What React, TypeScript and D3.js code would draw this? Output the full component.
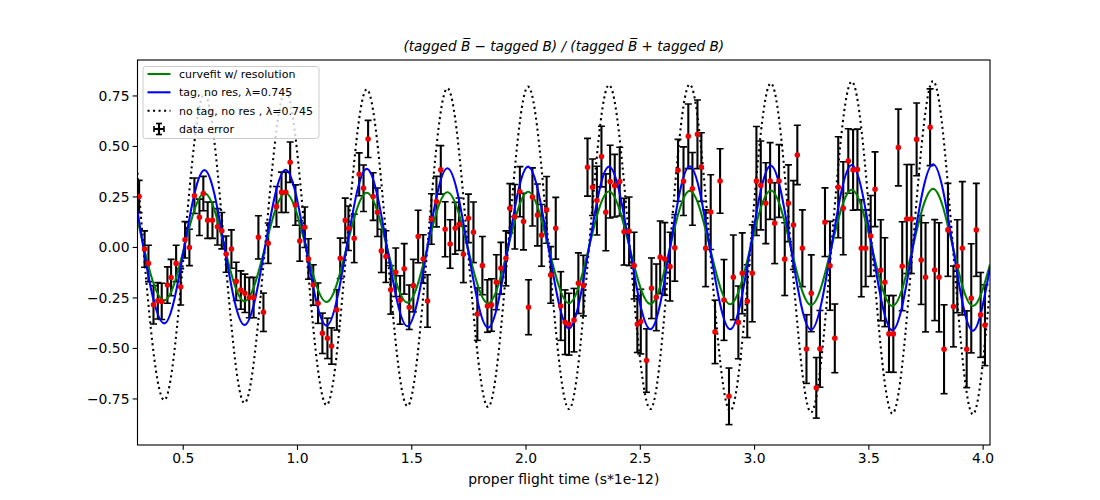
import React from 'react';
import * as d3 from 'd3';

// ---------- data ----------
const timeValues = [
  0.307, 0.331, 0.348, 0.370, 0.389, 0.406, 0.431, 0.447, 0.469, 0.489,
  0.508, 0.527, 0.549, 0.571, 0.588, 0.607, 0.628, 0.650, 0.669, 0.688,
  0.711, 0.732, 0.752, 0.770, 0.789, 0.808, 0.829, 0.851, 0.872, 0.908,
  0.930, 0.949, 0.968, 0.991, 1.010, 1.032, 1.048, 1.069, 1.090, 1.109,
  1.131, 1.149, 1.172, 1.187, 1.209, 1.223, 1.248, 1.270, 1.289, 1.309,
  1.331, 1.350, 1.367, 1.387, 1.408, 1.430, 1.449, 1.467, 1.489, 1.507,
  1.528, 1.550, 1.569, 1.586, 1.608, 1.627, 1.646, 1.668, 1.690, 1.707,
  1.726, 1.748, 1.770, 1.787, 1.809, 1.831, 1.849, 1.870, 1.890, 1.912,
  1.929, 1.951, 1.973, 1.989, 2.011, 2.028, 2.050, 2.068, 2.090, 2.108,
  2.130, 2.152, 2.171, 2.188, 2.210, 2.229, 2.251, 2.269, 2.291, 2.310,
  2.330, 2.349, 2.368, 2.388, 2.410, 2.429, 2.451, 2.473, 2.487, 2.502,
  2.527, 2.549, 2.570, 2.587, 2.607, 2.630, 2.651, 2.665, 2.689, 2.710,
  2.728, 2.750, 2.767, 2.786, 2.808, 2.827, 2.849, 2.866, 2.888, 2.907,
  2.929, 2.946, 2.968, 2.990, 3.008, 3.027, 3.049, 3.068, 3.088, 3.107,
  3.132, 3.148, 3.170, 3.187, 3.209, 3.227, 3.248, 3.270, 3.286, 3.308,
  3.330, 3.351, 3.366, 3.388, 3.410, 3.431, 3.450, 3.467, 3.486, 3.508,
  3.527, 3.552, 3.570, 3.588, 3.607, 3.629, 3.646, 3.666, 3.686, 3.709,
  3.729, 3.748, 3.768, 3.788, 3.807, 3.829, 3.846, 3.870, 3.887, 3.909,
  3.928, 3.948, 3.970, 3.989, 4.008,
];

const asymValues = [
  0.252, -0.008, -0.079, -0.284, -0.264, -0.267, -0.186, -0.149, -0.079, -0.195,
  0.038, 0.000, 0.256, 0.149, 0.267, 0.135, 0.135, 0.102, 0.083, -0.033,
  -0.008, -0.168, -0.211, -0.227, -0.248, -0.248, 0.050, -0.321, 0.021, 0.202,
  0.273, 0.273, 0.422, 0.210, 0.032, 0.100, -0.057, -0.186, -0.276, -0.425,
  -0.450, -0.488, -0.309, -0.054, 0.134, 0.095, 0.045, 0.362, 0.293, 0.537,
  0.252, 0.174, -0.017, -0.045, -0.210, -0.123, -0.260, -0.106, -0.296, -0.189,
  0.054, -0.057, -0.265, 0.141, 0.227, 0.384, 0.090, 0.017, 0.095, 0.115,
  -0.034, 0.144, 0.075, -0.330, -0.090, -0.290, -0.285, -0.172, -0.103, -0.054,
  0.194, 0.152, 0.276, 0.128, -0.296, 0.250, 0.161, 0.060, 0.186, -0.136,
  0.095, -0.290, -0.370, -0.380, -0.360, -0.177, -0.189, 0.397, 0.298, 0.232,
  0.450, 0.174, 0.326, 0.306, 0.326, 0.078, 0.080, -0.090, -0.380, -0.367,
  -0.560, -0.202, -0.247, -0.049, -0.057, -0.095, -0.002, 0.382, 0.328, 0.550,
  0.290, 0.560, 0.398, -0.004, 0.175, -0.418, 0.329, -0.260, -0.737, -0.148,
  -0.371, -0.128, -0.266, -0.128, 0.329, 0.307, 0.219, 0.329, 0.120, 0.329,
  -0.058, 0.219, 0.111, 0.458, -0.004, -0.503, -0.227, -0.695, -0.502, 0.125,
  -0.091, -0.450, 0.298, 0.194, 0.428, 0.384, 0.386, -0.004, -0.004, 0.057,
  0.288, -0.113, -0.172, -0.428, -0.428, 0.495, -0.093, 0.141, 0.141, 0.535,
  -0.062, -0.148, 0.595, -0.112, -0.148, -0.504, 0.087, -0.292, -0.093, -0.004,
  -0.504, -0.252, 0.087, -0.334, -0.385,
];

const asymErrors = [
  0.080, 0.090, 0.090, 0.095, 0.090, 0.090, 0.090, 0.090, 0.090, 0.090,
  0.090, 0.090, 0.088, 0.090, 0.085, 0.090, 0.090, 0.090, 0.090, 0.090,
  0.095, 0.095, 0.095, 0.095, 0.100, 0.100, 0.107, 0.095, 0.100, 0.100,
  0.100, 0.100, 0.100, 0.100, 0.100, 0.100, 0.100, 0.100, 0.100, 0.100,
  0.100, 0.090, 0.100, 0.100, 0.110, 0.110, 0.120, 0.106, 0.115, 0.092,
  0.118, 0.120, 0.107, 0.128, 0.120, 0.120, 0.120, 0.125, 0.110, 0.130,
  0.130, 0.120, 0.130, 0.125, 0.125, 0.120, 0.136, 0.120, 0.128, 0.130,
  0.140, 0.120, 0.150, 0.130, 0.144, 0.130, 0.130, 0.136, 0.128, 0.136,
  0.122, 0.160, 0.124, 0.140, 0.136, 0.144, 0.153, 0.153, 0.165, 0.140,
  0.153, 0.170, 0.160, 0.153, 0.157, 0.150, 0.150, 0.143, 0.140, 0.170,
  0.150, 0.190, 0.180, 0.155, 0.170, 0.165, 0.170, 0.165, 0.140, 0.160,
  0.157, 0.150, 0.165, 0.180, 0.180, 0.170, 0.165, 0.153, 0.170, 0.160,
  0.180, 0.170, 0.170, 0.190, 0.185, 0.157, 0.160, 0.200, 0.140, 0.210,
  0.180, 0.200, 0.180, 0.240, 0.270, 0.220, 0.200, 0.190, 0.200, 0.180,
  0.180, 0.190, 0.220, 0.147, 0.190, 0.170, 0.190, 0.150, 0.190, 0.170,
  0.220, 0.170, 0.250, 0.230, 0.160, 0.200, 0.200, 0.240, 0.190, 0.200,
  0.185, 0.250, 0.220, 0.190, 0.190, 0.190, 0.220, 0.270, 0.270, 0.180,
  0.220, 0.270, 0.190, 0.250, 0.270, 0.220, 0.230, 0.200, 0.230, 0.330,
  0.190, 0.270, 0.230, 0.210, 0.200,
];

// curve key points (start, successive troughs/peaks, end)
const curveTimes = [
  0.300, 0.417, 0.593, 0.768, 0.948, 1.127, 1.303, 1.481, 1.656, 1.834,
  2.009, 2.188, 2.363, 2.544, 2.716, 2.893, 3.071, 3.247, 3.425, 3.603,
  3.781, 3.955, 4.030,
];
const fitValues = [
  0.140, -0.262, 0.268, -0.266, 0.268, -0.270, 0.271, -0.273, 0.273, -0.276,
  0.276, -0.276, 0.277, -0.280, 0.280, -0.281, 0.282, -0.285, 0.285, -0.290,
  0.290, -0.290, -0.085,
];
const tagValues = [
  0.180, -0.376, 0.383, -0.384, 0.385, -0.387, 0.389, -0.390, 0.392, -0.397,
  0.400, -0.400, 0.400, -0.405, 0.402, -0.405, 0.405, -0.408, 0.408, -0.410,
  0.412, -0.412, -0.100,
];
const noTagValues = [
  0.370, -0.755, 0.760, -0.770, 0.775, -0.780, 0.782, -0.785, 0.788, -0.790,
  0.796, -0.800, 0.804, -0.800, 0.807, -0.810, 0.813, -0.816, 0.821, -0.822,
  0.824, -0.826, -0.200,
];

const xTicks = [0.5, 1.0, 1.5, 2.0, 2.5, 3.0, 3.5, 4.0];
const yTicks = [-0.75, -0.5, -0.25, 0, 0.25, 0.5, 0.75];

const xDomain = [0.3, 4.03];
const yDomain = [-0.978, 0.928];

// ---------- component ----------
const FONT = '"DejaVu Sans", sans-serif';
const PT = 100 / 72;

export default function App() {
  const left = 137.5, right = 990, top = 60, bottom = 445;
  const x = d3.scaleLinear().domain(xDomain).range([left, right]);
  const y = d3.scaleLinear().domain(yDomain).range([bottom, top]);

  const makeLine = (vals: number[]) =>
    d3
      .line<number>()
      .x((_, i) => x(curveTimes[i]))
      .y((d) => y(d))
      .curve(d3.curveMonotoneX)(vals) || '';

  const fmtY = (v: number) => d3.format('.2f')(v).replace('-', '\u2212');
  const fmtX = (v: number) => d3.format('.1f')(v);

  const lw = 1.5 * PT;
  const dots = `${1.5 * PT},${2.475 * PT}`;
  const cap = 3.5;
  const tickLen = 3.5 * PT;

  // legend geometry
  const lgX = 143, lgY = 66.5, lgW = 176, lgH = 72;
  const rows = [74, 92.3, 110.7, 129];
  const hx0 = 147.5, hx1 = 170.5, tx = 179;
  const legendLabels = [
    'curvefit w/ resolution',
    'tag, no res, \u03bb=0.745',
    'no tag, no res , \u03bb=0.745',
    'data error',
  ];

  return (
    <svg
      width={1100}
      height={500}
      style={{ position: 'absolute', left: 0, top: 0, background: '#fff' }}
      fontFamily={FONT}
    >
      <defs>
        <clipPath id="plotclip">
          <rect x={left} y={top} width={right - left} height={bottom - top} />
        </clipPath>
      </defs>
      <rect x={0} y={0} width={1100} height={500} fill="#fff" />

      <g clipPath="url(#plotclip)">
        {/* error bars */}
        <g stroke="#000">
          {timeValues.map((t, i) => {
            const cx = x(t);
            const y1 = y(asymValues[i] + asymErrors[i]);
            const y2 = y(asymValues[i] - asymErrors[i]);
            return (
              <g key={i}>
                <line x1={cx} x2={cx} y1={y1} y2={y2} strokeWidth={lw} />
                <line x1={cx - cap} x2={cx + cap} y1={y1} y2={y1} strokeWidth={1.6} />
                <line x1={cx - cap} x2={cx + cap} y1={y2} y2={y2} strokeWidth={1.6} />
              </g>
            );
          })}
        </g>
        {/* model curves */}
        <path d={makeLine(noTagValues)} fill="none" stroke="#000" strokeWidth={lw} strokeDasharray={dots} />
        <path d={makeLine(fitValues)} fill="none" stroke="#008000" strokeWidth={lw} strokeLinejoin="round" />
        <path d={makeLine(tagValues)} fill="none" stroke="#0000ff" strokeWidth={lw} strokeLinejoin="round" />
        {/* data points */}
        <g fill="#f00000" stroke="#f00000" strokeWidth={PT}>
          {timeValues.map((t, i) => (
            <circle key={i} cx={x(t)} cy={y(asymValues[i])} r={2.1} />
          ))}
        </g>
      </g>

      {/* axes frame */}
      <rect x={left} y={top} width={right - left} height={bottom - top} fill="none" stroke="#000" strokeWidth={0.8 * PT} />

      {/* x ticks */}
      {xTicks.map((t) => (
        <g key={'x' + t}>
          <line x1={x(t)} x2={x(t)} y1={bottom} y2={bottom + tickLen} stroke="#000" strokeWidth={0.8 * PT} />
          <text x={x(t)} y={bottom + 18} textAnchor="middle" fontSize={13.9} fill="#000">
            {fmtX(t)}
          </text>
        </g>
      ))}
      {/* y ticks */}
      {yTicks.map((t) => (
        <g key={'y' + t}>
          <line x1={left - tickLen} x2={left} y1={y(t)} y2={y(t)} stroke="#000" strokeWidth={0.8 * PT} />
          <text x={left - 8} y={y(t) + 5} textAnchor="end" fontSize={13.9} fill="#000">
            {fmtY(t)}
          </text>
        </g>
      ))}

      {/* axis label */}
      <text x={(left + right) / 2} y={484} textAnchor="middle" fontSize={13.9} fill="#000">
        proper flight time (s*1e-12)
      </text>

      {/* title */}
      <text x={(left + right) / 2} y={51} textAnchor="middle" fontSize={13.6} fontStyle="italic" fill="#000">
        {'(tagged B\u0305 \u2212 tagged B) / (tagged B\u0305 + tagged B)'}
      </text>

      {/* legend */}
      <rect x={lgX} y={lgY} width={lgW} height={lgH} rx={2.5} fill="#fff" fillOpacity={0.8} stroke="#cccccc" strokeWidth={1} />
      <line x1={hx0} x2={hx1} y1={rows[0]} y2={rows[0]} stroke="#008000" strokeWidth={lw} />
      <line x1={hx0} x2={hx1} y1={rows[1]} y2={rows[1]} stroke="#0000ff" strokeWidth={lw} />
      <line x1={hx0} x2={hx1} y1={rows[2]} y2={rows[2]} stroke="#000" strokeWidth={lw} strokeDasharray={dots} />
      <g stroke="#000">
        {(() => {
          const cx = (hx0 + hx1) / 2;
          const cy = rows[3];
          return (
            <>
              <line x1={cx} x2={cx} y1={cy - 5.5} y2={cy + 5.5} strokeWidth={lw} />
              <line x1={cx - 3} x2={cx + 3} y1={cy - 5.5} y2={cy - 5.5} strokeWidth={1.6} />
              <line x1={cx - 3} x2={cx + 3} y1={cy + 5.5} y2={cy + 5.5} strokeWidth={1.6} />
              <line x1={cx - 5} x2={cx + 5} y1={cy} y2={cy} strokeWidth={lw} />
              <line x1={cx - 5} x2={cx - 5} y1={cy - 3} y2={cy + 3} strokeWidth={1.6} />
              <line x1={cx + 5} x2={cx + 5} y1={cy - 3} y2={cy + 3} strokeWidth={1.6} />
            </>
          );
        })()}
      </g>
      {legendLabels.map((lab, i) => (
        <text key={lab} x={tx} y={rows[i] + 4} fontSize={11} fill="#000">
          {lab}
        </text>
      ))}
    </svg>
  );
}
